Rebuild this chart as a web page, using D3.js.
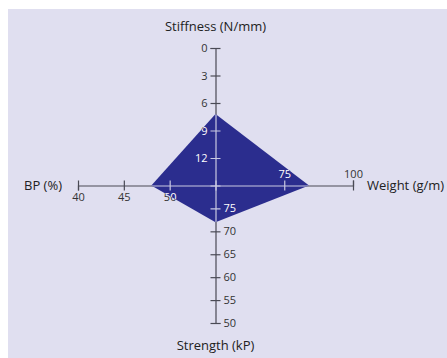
<!DOCTYPE html>
<html>
<head>
<meta charset="utf-8">
<script src="https://cdn.jsdelivr.net/npm/d3@7"></script>
<style>
  body { margin: 0; background: #fff; }
  text { font-family: "Open Sans", "DejaVu Sans", sans-serif; }
</style>
</head>
<body>
<div id="chart"></div>
<script>
// axis order: top, right, bottom, left
var axisNames = ["Stiffness (N/mm)", "Weight (g/m)", "Strength (kP)", "BP (%)"]
var centerValues = [15, 50, 80, 55]
var endValues = [0, 100, 50, 40]
var tickValues = [[0, 3, 6, 9, 12], [75, 100], [50, 55, 60, 65, 70, 75], [40, 45, 50]]
var seriesValues = [7.2, 84, 72, 48]

var width = 447, height = 358
var cx = 215.5, cy = 185.5, R = 137.5

var svg = d3.select("#chart").append("svg")
  .attr("width", width).attr("height", height)

svg.append("rect").attr("x", 8).attr("y", 9)
  .attr("width", width - 8).attr("height", height - 9)
  .attr("fill", "#e0dff0")

// scales: one per axis, running from the centre outwards
var scales = [
  d3.scaleLinear().domain([centerValues[0], endValues[0]]).range([cy, cy - R]),
  d3.scaleLinear().domain([centerValues[1], endValues[1]]).range([cx, cx + R]),
  d3.scaleLinear().domain([centerValues[2], endValues[2]]).range([cy, cy + R]),
  d3.scaleLinear().domain([centerValues[3], endValues[3]]).range([cx, cx - R])
]

function drawAxes(g, lineColor, textColor) {
  var axes = [
    { a: d3.axisLeft(scales[0]), t: "translate(" + cx + ",0)", vert: true },
    { a: d3.axisTop(scales[1]), t: "translate(0," + cy + ")", vert: false },
    { a: d3.axisRight(scales[2]), t: "translate(" + cx + ",0)", vert: true },
    { a: d3.axisBottom(scales[3]), t: "translate(0," + cy + ")", vert: false }
  ]
  axes.forEach(function(d, i) {
    var ag = g.append("g").attr("transform", d.t)
      .call(d.a.tickValues(tickValues[i]).tickSizeOuter(0).tickSize(5).tickPadding(3))
    ag.select(".domain").attr("stroke", lineColor).attr("stroke-width", 1.2)
    ag.selectAll(".tick line").attr("stroke", lineColor).attr("stroke-width", 1.2)
    if (d.vert) ag.selectAll(".tick line").attr("x1", -5).attr("x2", 5)
    else ag.selectAll(".tick line").attr("y1", -5).attr("y2", 5)
    ag.selectAll(".tick text").attr("fill", textColor)
      .style("font-size", "11px").style("font-family", "'Open Sans', sans-serif")
  })
}

drawAxes(svg.append("g"), "#4a4a55", "#333")

var pts = seriesValues.map(function(v, i) {
  var s = scales[i](v)
  return i % 2 == 0 ? [cx, s] : [s, cy]
})

svg.append("path")
  .attr("d", d3.line()(pts) + "Z")
  .attr("fill", "#2b2d8e")

svg.append("clipPath").attr("id", "polyClip")
  .append("path").attr("d", d3.line()(pts) + "Z")

drawAxes(svg.append("g").attr("clip-path", "url(#polyClip)"), "#c9c9e2", "#fff")

// axis titles
var title = svg.append("g").style("font-size", "13px").attr("fill", "#222")
title.append("text").attr("x", cx).attr("y", 31).attr("text-anchor", "middle").text(axisNames[0])
title.append("text").attr("x", cx + R + 14).attr("y", cy + 4.5).attr("text-anchor", "start").text(axisNames[1])
title.append("text").attr("x", cx).attr("y", 350).attr("text-anchor", "middle").text(axisNames[2])
title.append("text").attr("x", cx - R - 16).attr("y", cy + 4.5).attr("text-anchor", "end").text(axisNames[3])
</script>
</body>
</html>
